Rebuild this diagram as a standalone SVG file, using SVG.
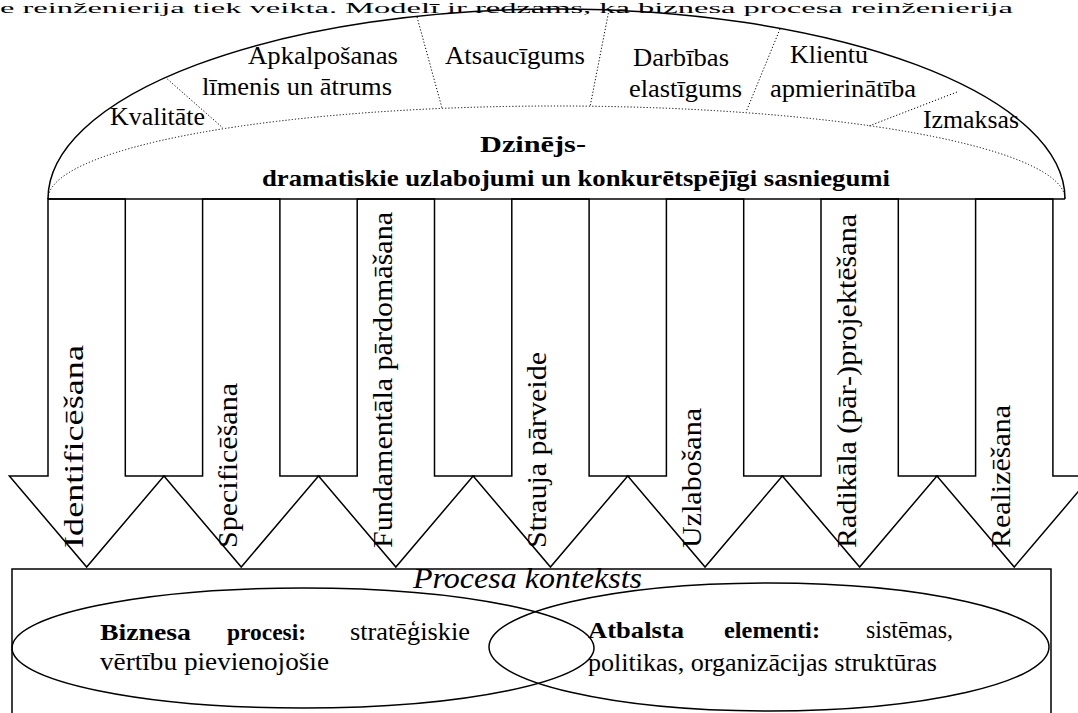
<svg xmlns="http://www.w3.org/2000/svg" width="1078" height="713" viewBox="0 0 1078 713">
<style>
.ln{fill:none;stroke:#000;stroke-width:1.5}
.arw{fill:#fff;stroke:#000;stroke-width:1.5;stroke-linejoin:miter}
.dot{fill:none;stroke:#000;stroke-width:1;stroke-dasharray:1.2 2}
.t{font-family:'Liberation Serif','Times New Roman',serif;font-size:26px;fill:#000}
.v{font-size:27px}
.b{font-weight:bold;font-size:24px}
.i{font-style:italic;font-size:29px}
.cap{font-size:14px}
</style>
<rect x="0" y="0" width="1078" height="713" fill="#fff"/>
<text class="t cap" x="0" y="13" textLength="1013" lengthAdjust="spacingAndGlyphs">e reinženierija tiek veikta. Modelī ir redzams, ka biznesa procesa reinženierija</text>

<g id="dome">
  <path class="ln" d="M48,199 A508.5,190 0 0 1 1065,199" stroke-width="1.8"/>
  <path class="dot" d="M48,199 A508.5,93 0 0 1 1065,199"/>
  <line class="dot" x1="165" y1="77" x2="223" y2="128"/>
  <line class="dot" x1="417" y1="17" x2="442" y2="108"/>
  <line class="dot" x1="609" y1="10" x2="590" y2="107"/>
  <line class="dot" x1="780" y1="29" x2="746" y2="112"/>
  <line class="dot" x1="957" y1="92" x2="869" y2="126"/>
  <text class="t" x="110" y="125" textLength="95" lengthAdjust="spacingAndGlyphs">Kvalitāte</text>
  <text class="t" x="248" y="64" textLength="150" lengthAdjust="spacingAndGlyphs">Apkalpošanas</text>
  <text class="t" x="202" y="95" textLength="190" lengthAdjust="spacingAndGlyphs">līmenis un ātrums</text>
  <text class="t" x="445" y="64" textLength="140" lengthAdjust="spacingAndGlyphs">Atsaucīgums</text>
  <text class="t" x="633" y="66" textLength="96" lengthAdjust="spacingAndGlyphs">Darbības</text>
  <text class="t" x="629" y="97" textLength="113" lengthAdjust="spacingAndGlyphs">elastīgums</text>
  <text class="t" x="790" y="63" textLength="78" lengthAdjust="spacingAndGlyphs">Klientu</text>
  <text class="t" x="770" y="97" textLength="146" lengthAdjust="spacingAndGlyphs">apmierinātība</text>
  <text class="t" x="923" y="128" textLength="96" lengthAdjust="spacingAndGlyphs">Izmaksas</text>
  <text class="t b" x="480" y="152" textLength="106" lengthAdjust="spacingAndGlyphs">Dzinējs-</text>
  <text class="t b" x="262" y="186" textLength="628" lengthAdjust="spacingAndGlyphs">dramatiskie uzlabojumi un konkurētspējīgi sasniegumi</text>
</g>

<g id="arrow-identificesana">
  <polygon class="arw" points="48,199 48,476 9.35,476 86.65,567 163.95,476 125.3,476 125.3,199"/>
  <text class="t v" transform="translate(83,548) rotate(-90)" textLength="203" lengthAdjust="spacingAndGlyphs">Identificēšana</text>
</g>
<g id="arrow-specificesana">
  <polygon class="arw" points="202.6,199 202.6,476 163.95,476 241.25,567 318.55,476 279.9,476 279.9,199"/>
  <text class="t v" transform="translate(237,548) rotate(-90)" textLength="165" lengthAdjust="spacingAndGlyphs">Specificēšana</text>
</g>
<g id="arrow-fundamentala">
  <polygon class="arw" points="357.2,199 357.2,476 318.55,476 395.85,567 473.15,476 434.5,476 434.5,199"/>
  <text class="t v" transform="translate(392,548) rotate(-90)" textLength="336" lengthAdjust="spacingAndGlyphs">Fundamentāla pārdomāšana</text>
</g>
<g id="arrow-strauja">
  <polygon class="arw" points="511.8,199 511.8,476 473.15,476 550.45,567 627.75,476 589.1,476 589.1,199"/>
  <text class="t v" transform="translate(546,548) rotate(-90)" textLength="196" lengthAdjust="spacingAndGlyphs">Strauja pārveide</text>
</g>
<g id="arrow-uzlabosana">
  <polygon class="arw" points="666.4,199 666.4,476 627.75,476 705.05,567 782.35,476 743.7,476 743.7,199"/>
  <text class="t v" transform="translate(701,548) rotate(-90)" textLength="140" lengthAdjust="spacingAndGlyphs">Uzlabošana</text>
</g>
<g id="arrow-radikala">
  <polygon class="arw" points="821,199 821,476 782.35,476 859.65,567 936.95,476 898.3,476 898.3,199"/>
  <text class="t v" transform="translate(856,548) rotate(-90)" textLength="334" lengthAdjust="spacingAndGlyphs">Radikāla (pār-)projektēšana</text>
</g>
<g id="arrow-realizesana">
  <polygon class="arw" points="975.6,199 975.6,476 936.95,476 1014.25,567 1091.55,476 1052.9,476 1052.9,199"/>
  <text class="t v" transform="translate(1010,548) rotate(-90)" textLength="143" lengthAdjust="spacingAndGlyphs">Realizēšana</text>
</g>

<line class="ln" x1="48" y1="199" x2="1065" y2="199" stroke-width="2.2"/>

<g id="context">
  <path class="ln" d="M12,713 V569 H1051 V713"/>
  <text class="t i" x="413" y="588" textLength="229" lengthAdjust="spacingAndGlyphs">Procesa konteksts</text>
</g>
<g id="business-processes">
  <ellipse class="ln" cx="303" cy="648" rx="291" ry="60"/>
  <text class="t"><tspan class="b" x="100" y="640" textLength="91" lengthAdjust="spacingAndGlyphs">Biznesa</tspan><tspan class="b" x="227" y="640" textLength="79" lengthAdjust="spacingAndGlyphs">procesi:</tspan><tspan x="350" y="640" textLength="120" lengthAdjust="spacingAndGlyphs">stratēģiskie</tspan></text>
  <text class="t" x="100" y="670" textLength="229" lengthAdjust="spacingAndGlyphs">vērtību pievienojošie</text>
</g>
<g id="support-elements">
  <ellipse class="ln" cx="769" cy="647" rx="280" ry="64"/>
  <text class="t"><tspan class="b" x="588" y="638" textLength="96" lengthAdjust="spacingAndGlyphs">Atbalsta</tspan><tspan class="b" x="724" y="638" textLength="96" lengthAdjust="spacingAndGlyphs">elementi:</tspan><tspan x="866" y="638" textLength="87" lengthAdjust="spacingAndGlyphs">sistēmas,</tspan></text>
  <text class="t" x="588" y="671" textLength="349" lengthAdjust="spacingAndGlyphs">politikas, organizācijas struktūras</text>
</g>
<g id="connectors"></g>
</svg>
